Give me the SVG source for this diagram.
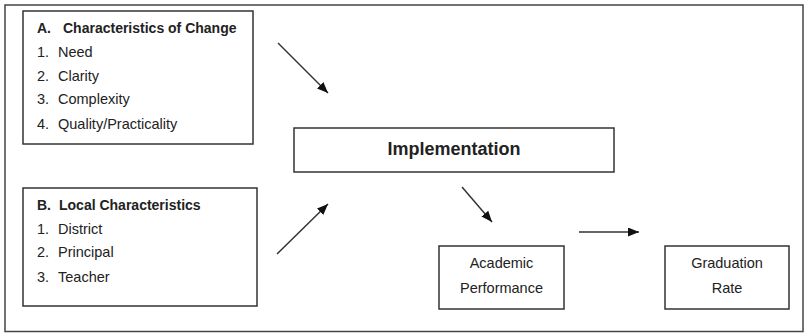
<svg xmlns="http://www.w3.org/2000/svg" width="805" height="333" viewBox="0 0 805 333">
  <style>
    .box { fill: #fff; stroke: #333; stroke-width: 1.5; }
    .frame { fill: #fff; stroke: #444; stroke-width: 1.5; }
    .t { font-family: "Liberation Sans", Arial, sans-serif; fill: #222; }
    .h { font-size: 14px; font-weight: bold; }
    .i { font-size: 14.5px; }
    .c { font-size: 14.5px; text-anchor: middle; }
    .imp { font-size: 18px; font-weight: bold; text-anchor: middle; }
    .conn { stroke: #333; stroke-width: 1.5; fill: none; marker-end: url(#ah); }
  </style>
  <defs>
    <marker id="ah" markerUnits="userSpaceOnUse" markerWidth="12" markerHeight="10" refX="11" refY="4.5" orient="auto">
      <path d="M0,0 L11,4.5 L0,9 z" fill="#111"/>
    </marker>
  </defs>
  <rect class="frame" x="5" y="5" width="798" height="326.5"/>

  <g id="boxA">
    <rect class="box" x="23" y="11" width="230" height="133"/>
    <text class="t h" x="37" y="33">A.<tspan x="63">Characteristics of Change</tspan></text>
    <text class="t i" x="37" y="57">1.<tspan x="58">Need</tspan></text>
    <text class="t i" x="37" y="81">2.<tspan x="58">Clarity</tspan></text>
    <text class="t i" x="37" y="104">3.<tspan x="58">Complexity</tspan></text>
    <text class="t i" x="37" y="129">4.<tspan x="58">Quality/Practicality</tspan></text>
  </g>

  <g id="boxB">
    <rect class="box" x="23" y="188" width="234" height="118"/>
    <text class="t h" x="37" y="210">B.<tspan x="59">Local Characteristics</tspan></text>
    <text class="t i" x="37" y="234">1.<tspan x="58">District</tspan></text>
    <text class="t i" x="37" y="257">2.<tspan x="58">Principal</tspan></text>
    <text class="t i" x="37" y="282">3.<tspan x="58">Teacher</tspan></text>
  </g>

  <g id="implementation">
    <rect class="box" x="294" y="128" width="320" height="44"/>
    <text class="t imp" x="454" y="155">Implementation</text>
  </g>

  <g id="academic">
    <rect class="box" x="439" y="246" width="125" height="63"/>
    <text class="t c" x="501.5" y="268">Academic</text>
    <text class="t c" x="501.5" y="293">Performance</text>
  </g>

  <g id="graduation">
    <rect class="box" x="665" y="246" width="124" height="63"/>
    <text class="t c" x="727" y="268">Graduation</text>
    <text class="t c" x="727" y="293">Rate</text>
  </g>

  <g id="connectors">
    <line class="conn" x1="278" y1="43" x2="328" y2="93"/>
    <line class="conn" x1="277" y1="254" x2="328" y2="204"/>
    <line class="conn" x1="462" y1="187" x2="492" y2="222"/>
    <line class="conn" x1="579" y1="232" x2="639" y2="232"/>
  </g>
</svg>
